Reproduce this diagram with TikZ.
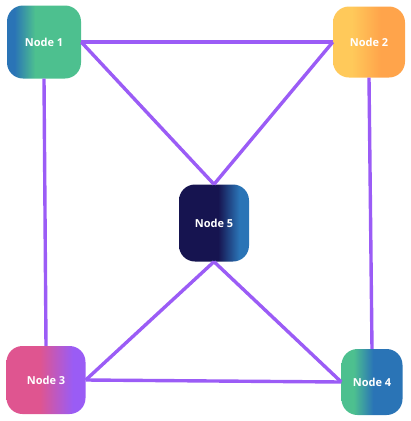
\documentclass[tikz,border=0pt]{standalone}
\usepackage{tikz}
\usepackage{fontspec}
\setmainfont{Open Sans}
\usetikzlibrary{shapes}
\usetikzlibrary{positioning}

\definecolor{edgepurple}{HTML}{9B5CF6}
\definecolor{nblue}{HTML}{2A74B6}
\definecolor{ngreen}{HTML}{4DC08F}
\definecolor{nyellow}{HTML}{FFC95A}
\definecolor{norange}{HTML}{FFA44B}
\definecolor{npink}{HTML}{DF5590}
\definecolor{nviolet}{HTML}{9A5CF5}
\definecolor{nnavy}{HTML}{161450}

\pgfdeclarehorizontalshading{shadeone}{100bp}{color(0bp)=(nblue); color(30bp)=(nblue); color(44bp)=(ngreen); color(100bp)=(ngreen)}
\pgfdeclarehorizontalshading{shadetwo}{100bp}{color(0bp)=(nyellow); color(38bp)=(nyellow); color(58bp)=(norange); color(100bp)=(norange)}
\pgfdeclarehorizontalshading{shadethree}{100bp}{color(0bp)=(npink); color(46bp)=(npink); color(67bp)=(nviolet); color(100bp)=(nviolet)}
\pgfdeclarehorizontalshading{shadefour}{100bp}{color(0bp)=(ngreen); color(35bp)=(ngreen); color(51bp)=(nblue); color(100bp)=(nblue)}
\pgfdeclarehorizontalshading{shadefive}{100bp}{color(0bp)=(nnavy); color(53bp)=(nnavy); color(68bp)=(nblue); color(100bp)=(nblue)}

\tikzset{
    graphnode/.style={rounded corners=16pt, text=white, inner sep=0pt,
        font=\fontsize{11}{13}\selectfont\bfseries},
    graphedge/.style={draw=edgepurple, line width=3.4pt}
}

\begin{document}
\begin{tikzpicture}[x=1pt, y=-1pt]

        \useasboundingbox (0,0) rectangle (411,421);

        \node[graphnode, minimum width=74pt, minimum height=73pt, shading=shadeone] (n1) at (44, 42) {Node 1};
        \node[graphnode, minimum width=72pt, minimum height=71pt, shading=shadetwo] (n2) at (369, 42) {Node 2};
        \node[graphnode, minimum width=79pt, minimum height=68pt, shading=shadethree] (n3) at (46, 380) {Node 3};
        \node[graphnode, minimum width=61pt, minimum height=66pt, shading=shadefour] (n4) at (372, 382) {Node 4};
        \node[graphnode, minimum width=70pt, minimum height=77pt, shading=shadefive] (n5) at (214, 223) {Node 5};

        \draw [graphedge] (n1.east) -- (n2.west);
        \draw [graphedge] (n1.east) -- (n5.north);
        \draw [graphedge] (n2.west) -- (n5.north);
        \draw [graphedge] (n1.south) -- (n3.north);
        \draw [graphedge] (n2.south) -- (n4.north);
        \draw [graphedge] (n3.east) -- (n4.west);
        \draw [graphedge] (n3.east) -- (n5.south);
        \draw [graphedge] (n4.west) -- (n5.south);

    \end{tikzpicture}
\end{document}
